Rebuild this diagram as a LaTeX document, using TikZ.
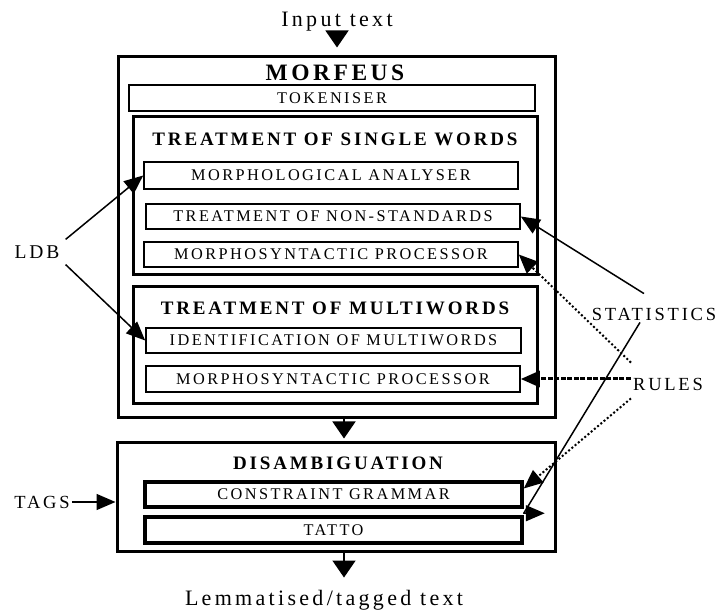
\documentclass[tikz,border=0pt]{standalone}
\usepackage{fontspec}
\setmainfont[LetterSpace=15]{Liberation Serif}
\usetikzlibrary{arrows.meta,positioning,calc}
\tikzset{stage box/.style={draw,line width=3pt,inner sep=0pt},
	sub box/.style={draw,line width=1.6pt,inner sep=0pt,minimum width=374pt,minimum height=25pt,font=\fontsize{16.3}{18}\selectfont},
	title node/.style={inner sep=0pt,font=\bfseries\fontsize{19}{21}\selectfont},
	side label/.style={inner sep=2pt,font=\fontsize{18.5}{20}\selectfont},
	flow arrow/.style={line width=1.5pt,-{Triangle[length=17pt,width=23pt]}},
	feed arrow/.style={line width=1.5pt,line join=round,-{Triangle[length=19pt,width=16pt]}},
	dot line/.style={line width=2pt,dash pattern=on 2pt off 2.2pt},
}

\begin{document}
\begin{tikzpicture}[x=1pt,y=1pt]
		\useasboundingbox (0,0) rectangle (718,611);
		% morfeus
		\node[stage box,minimum width=437pt,minimum height=361pt] (morfeus) at (336.5,373.5) {};
		\node[title node,font=\bfseries\fontsize{23.5}{25}\selectfont] (morfeustitle) at (335,538) {MORFEUS};
		\node[sub box,minimum width=406pt,minimum height=26pt] (tokeniser) at (332,513) {TOKENISER};
		
		\node[stage box,minimum width=404pt,minimum height=158pt] (single) at (335,415) {};
		\node[title node] (singletitle) at (335,471.5) {TREATMENT OF SINGLE WORDS};
		\node[sub box,minimum height=27pt] (morphan) at (331,435.5) {MORPHOLOGICAL ANALYSER};
		\node[sub box] (nonstd) at (333,394.5) {TREATMENT OF NON-STANDARDS};
		\node[sub box] (msp1) at (331,356.5) {MORPHOSYNTACTIC PROCESSOR};
		
		\node[stage box,minimum width=404pt,minimum height=117pt] (multi) at (335,265.5) {};
		\node[title node] (multititle) at (335,303) {TREATMENT OF MULTIWORDS};
		\node[sub box,minimum width=375pt] (identmw) at (333.5,270.5) {IDENTIFICATION OF MULTIWORDS};
		\node[sub box,minimum height=26pt] (msp2) at (333,232) {MORPHOSYNTACTIC PROCESSOR};
		
		% disambiguation
		\node[stage box,minimum width=438pt,minimum height=108pt] (disamb) at (336,114) {};
		\node[title node] (disambtitle) at (338,148) {DISAMBIGUATION};
		\node[sub box,line width=3.5pt,minimum width=377pt] (cg) at (333.5,116.5) {CONSTRAINT GRAMMAR};
		\node[sub box,line width=3.5pt,minimum width=377pt,minimum height=26pt] (tatto) at (333.5,81) {TATTO};
		
		% texts round it
		\node[inner sep=0pt,anchor=base,font=\fontsize{22}{24}\selectfont] (input) at (337,584) {Input text};
		\node[inner sep=0pt,anchor=base,font=\fontsize{22}{24}\selectfont] (output) at (324,6) {Lemmatised/tagged text};
		\node[side label,inner sep=6pt,font=\fontsize{19.5}{21}\selectfont] (ldb) at (37,359) {LDB};
		\node[side label] (tags) at (42,109) {TAGS};
		\node[side label] (stats) at (654,297) {STATISTICS};
		\node[side label] (rules) at (668,227) {RULES};
		
		\draw[flow arrow,shorten >=8pt] (input.south) -- (input.south |- morfeus.north);
		\draw[flow arrow,shorten >=3pt] ([xshift=7.5pt]morfeus.south) -- ([xshift=8pt]disamb.north);
		\draw[flow arrow,shorten >=12pt] ([xshift=8pt]disamb.south) -- ([xshift=20pt]output.north);
		
		\draw[feed arrow] (tags.east) -- (tags.east -| disamb.west);
		\draw[feed arrow] (ldb.north east) -- (morphan.west);
		\draw[feed arrow] (ldb.south east) -- (identmw.west);
		
		\draw[feed arrow] ([shift={(-10pt,12pt)}]stats.north) -- (nonstd.east);
		\draw[feed arrow] ([xshift=-14pt]stats.south) -- ([yshift=2pt]tatto.north east) -- ++(21pt,0);
		
		\draw[feed arrow,dot line] ([yshift=13pt]rules.north west) -- (msp1.east);
		\draw[feed arrow,line width=3pt,dash pattern=on 5pt off 1.5pt] (msp2.east -| rules.west) -- (msp2.east);
		\draw[feed arrow,dot line] ([yshift=-6pt]rules.south west) -- ([yshift=6pt]cg.east);
\end{tikzpicture}
\end{document}
